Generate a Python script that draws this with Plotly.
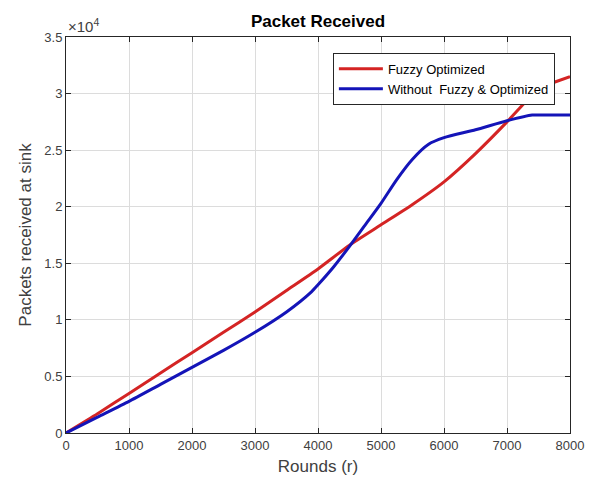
import plotly.graph_objects as go

rounds_red = [0, 500, 1000, 1500, 2000, 2500, 3000, 3500, 4000, 4500, 5000, 5500, 6000, 6500, 7000, 7300, 7500, 7750, 8000]
fuzzy_opt = [0, 1700, 3500, 5300, 7100, 8900, 10700, 12600, 14500, 16600, 18400, 20200, 22200, 24700, 27500, 29300, 30500, 31000, 31500]

rounds_blue = [0, 500, 1000, 1500, 2000, 2500, 3000, 3500, 3900, 4000, 4250, 4500, 4750, 5000, 5250, 5500, 5750, 6000, 6500, 7000, 7400, 7500, 8000]
without_fuzzy = [0, 1400, 2800, 4300, 5800, 7300, 8900, 10700, 12500, 13100, 14700, 16500, 18400, 20300, 22400, 24200, 25500, 26100, 26800, 27600, 28100, 28100, 28100]

x_ticks = [0, 1000, 2000, 3000, 4000, 5000, 6000, 7000, 8000]
y_ticks = [0, 5000, 10000, 15000, 20000, 25000, 30000, 35000]
y_tick_text = ["0", "0.5", "1", "1.5", "2", "2.5", "3", "3.5"]

FONT = "Liberation Sans, Arial"

fig = go.Figure()
fig.add_trace(go.Scatter(x=rounds_red, y=fuzzy_opt, mode="lines", name="Fuzzy Optimized",
                         line=dict(color="#D42424", width=3, shape="spline", smoothing=0.6)))
fig.add_trace(go.Scatter(x=rounds_blue, y=without_fuzzy, mode="lines", name="Without  Fuzzy & Optimized",
                         line=dict(color="#1414B8", width=3, shape="spline", smoothing=0.6)))

axis_common = dict(showline=True, linecolor="#262626", linewidth=1, mirror="ticks",
                   ticks="inside", ticklen=5, tickcolor="#262626",
                   showgrid=True, gridcolor="#DCDCDC", gridwidth=1, zeroline=False,
                   tickfont=dict(family=FONT, size=13, color="#404040"))

fig.update_layout(
    width=596, height=483,
    paper_bgcolor="white", plot_bgcolor="white",
    margin=dict(l=58, r=34, t=29, b=58),
    title=dict(text="<b>Packet Received</b>", x=(58 + 562) / 2 / 596, xanchor="center",
               y=1 - 13 / 483, yanchor="middle",
               font=dict(family=FONT, size=17, color="#000000")),
    xaxis=dict(range=[0, 8000], tickvals=x_ticks,
               title=dict(text="Rounds (r)", standoff=8,
                          font=dict(family=FONT, size=17, color="#404040")),
               **axis_common),
    yaxis=dict(range=[0, 35000], tickvals=y_ticks, ticktext=y_tick_text,
               title=dict(text="Packets received at sink", standoff=8,
                          font=dict(family=FONT, size=17, color="#404040")),
               **axis_common),
    legend=dict(x=0.970, y=0.96, xanchor="right", yanchor="top",
                bgcolor="white", bordercolor="#262626", borderwidth=1,
                font=dict(family=FONT, size=13, color="#000000"),
                tracegroupgap=0, itemwidth=44),
    showlegend=True,
)

fig.add_annotation(text="\u00d710<sup>4</sup>", xref="paper", yref="paper", x=0, y=1,
                   xanchor="left", yanchor="bottom", showarrow=False,
                   font=dict(family=FONT, size=15, color="#404040"))

fig.write_html("out.html")
